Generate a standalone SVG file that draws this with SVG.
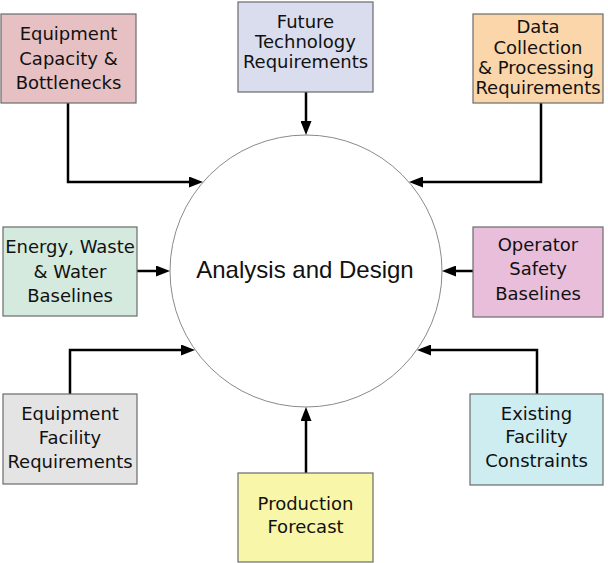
<svg xmlns="http://www.w3.org/2000/svg" width="608" height="563" viewBox="0 0 608 563">
<style>
.box{stroke:#6b6b6b;stroke-width:1.2}
.lbl{font-family:"DejaVu Sans",sans-serif;font-size:18px;fill:#111;text-anchor:middle}
.conn{fill:none;stroke:#000;stroke-width:2.5;marker-end:url(#ah)}
</style>
<defs>
<marker id="ah" markerUnits="userSpaceOnUse" markerWidth="14" markerHeight="11" refX="2" refY="5.5" orient="auto">
<path d="M0,0 L14,5.5 L0,11 z" fill="#000"/>
</marker>
</defs>
<rect width="608" height="563" fill="#fff"/>
<g id="center">
<circle cx="306" cy="271" r="136" fill="#fff" stroke="#8a8a8a" stroke-width="1"/>
<text x="305" y="278" style="font-family:'Liberation Sans',Arial,sans-serif;font-size:24px;fill:#111;text-anchor:middle">Analysis and Design</text>
</g>
<g id="connectors">
<path class="conn" d="M68,103 V182 H191"/>
<path class="conn" d="M306,92 V123"/>
<path class="conn" d="M541,103 V182 H421"/>
<path class="conn" d="M137,271 H158"/>
<path class="conn" d="M473,271 H454"/>
<path class="conn" d="M70,394 V350 H183"/>
<path class="conn" d="M537,394 V350 H429"/>
<path class="conn" d="M306,473 V419"/>
</g>
<g id="capacity">
<rect class="box" x="1" y="14" width="135" height="89" fill="#e6c0c2"/>
<text class="lbl" x="68.5" y="40">Equipment</text>
<text class="lbl" x="68.5" y="65">Capacity &amp;</text>
<text class="lbl" x="68.5" y="89">Bottlenecks</text>
</g>
<g id="future">
<rect class="box" x="238" y="2" width="135" height="90" fill="#d9dded"/>
<text class="lbl" x="305.5" y="28">Future</text>
<text class="lbl" x="305.5" y="48">Technology</text>
<text class="lbl" x="305.5" y="68">Requirements</text>
</g>
<g id="data">
<rect class="box" x="473" y="14" width="130" height="89" fill="#fbd6aa"/>
<text class="lbl" x="538" y="33">Data</text>
<text class="lbl" x="538" y="54">Collection</text>
<text class="lbl" x="536" y="74">&amp; Processing</text>
<text class="lbl" x="538" y="94">Requirements</text>
</g>
<g id="energy">
<rect class="box" x="3" y="227" width="134" height="89" fill="#d5eadf"/>
<text class="lbl" x="70" y="253">Energy, Waste</text>
<text class="lbl" x="70" y="278">&amp; Water</text>
<text class="lbl" x="70" y="302">Baselines</text>
</g>
<g id="operator">
<rect class="box" x="473" y="227" width="130" height="90" fill="#e9bedb"/>
<text class="lbl" x="538" y="251">Operator</text>
<text class="lbl" x="538" y="275">Safety</text>
<text class="lbl" x="538" y="300">Baselines</text>
</g>
<g id="facility">
<rect class="box" x="3" y="394" width="134" height="90" fill="#e4e4e4"/>
<text class="lbl" x="70" y="420">Equipment</text>
<text class="lbl" x="70" y="444">Facility</text>
<text class="lbl" x="70" y="468">Requirements</text>
</g>
<g id="existing">
<rect class="box" x="470" y="394" width="133" height="91" fill="#ceedf0"/>
<text class="lbl" x="536.5" y="420">Existing</text>
<text class="lbl" x="536.5" y="443">Facility</text>
<text class="lbl" x="536.5" y="467">Constraints</text>
</g>
<g id="production">
<rect class="box" x="238" y="473" width="135" height="89" fill="#f8f6a8"/>
<text class="lbl" x="305.5" y="510">Production</text>
<text class="lbl" x="305.5" y="533">Forecast</text>
</g>
</svg>
